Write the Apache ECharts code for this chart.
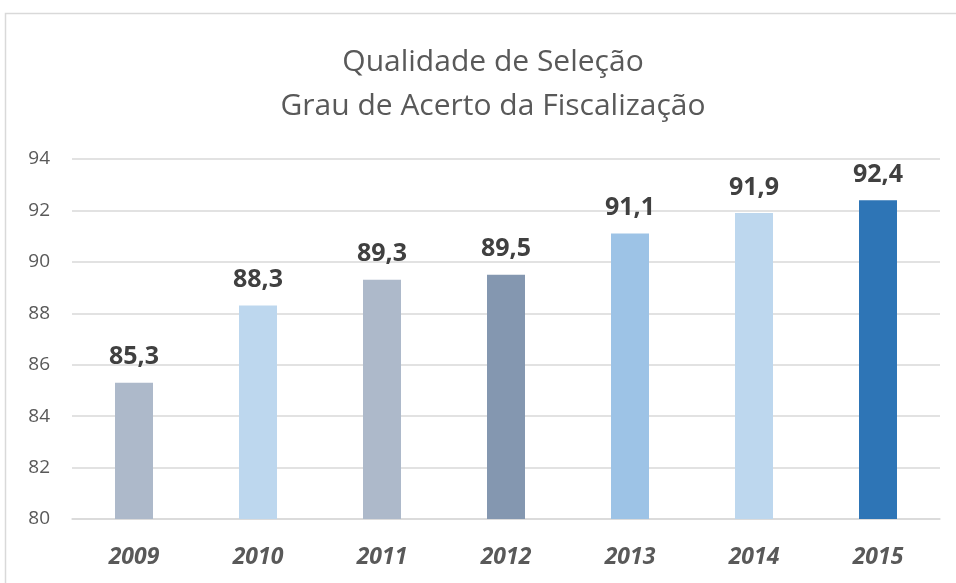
<!DOCTYPE html>
<html>
<head>
<meta charset="utf-8">
<script src="https://cdn.jsdelivr.net/npm/echarts@6/dist/echarts.min.js"></script>
<style>
  html, body { margin: 0; padding: 0; background: #fff; }
  #chart { width: 956px; height: 583px; }
</style>
</head>
<body>
<div id="chart"></div>
<script>
var years = ['2009', '2010', '2011', '2012', '2013', '2014', '2015'];
var values = [85.3, 88.3, 89.3, 89.5, 91.1, 91.9, 92.4];
var barColors = ['#adb9ca', '#bdd7ee', '#adb9ca', '#8497b0', '#9dc3e6', '#bdd7ee', '#2e75b6'];

var chart = echarts.init(document.getElementById('chart'));

var option = {
  animation: false,
  graphic: [{
    type: 'rect',
    shape: { x: 5.5, y: 13.5, width: 1000, height: 600 },
    style: { fill: 'none', stroke: '#d9d9d9', lineWidth: 1.5 },
    silent: true
  }],
  title: {
    text: 'Qualidade de Seleção\nGrau de Acerto da Fiscalização',
    left: 488,
    textAlign: 'center',
    top: 35,
    textStyle: {
      fontFamily: 'Open Sans',
      fontWeight: 'normal',
      fontSize: 30,
      lineHeight: 44,
      color: '#595959'
    }
  },
  grid: { left: 72, right: 16, top: 159, bottom: 64, containLabel: false },
  xAxis: {
    type: 'category',
    data: years,
    axisLine: { show: true, lineStyle: { color: '#d9d9d9', width: 1.5 } },
    axisTick: { show: false },
    axisLabel: {
      margin: 27,
      fontFamily: 'Open Sans',
      fontStyle: 'italic',
      fontWeight: 'bold',
      fontSize: 23,
      color: '#595959'
    }
  },
  yAxis: {
    type: 'value',
    min: 80,
    max: 94,
    interval: 2,
    axisLine: { show: false },
    axisTick: { show: false },
    splitLine: { lineStyle: { color: '#d9d9d9', width: 1.5 } },
    axisLabel: {
      margin: 22,
      fontFamily: 'Open Sans',
      fontSize: 19,
      color: '#595959'
    }
  },
  series: [{
    type: 'bar',
    barWidth: 38,
    data: values.map(function (v, i) {
      return { value: v, itemStyle: { color: barColors[i] } };
    }),
    label: {
      show: true,
      position: 'top',
      distance: 13,
      fontFamily: 'Open Sans',
      fontWeight: 'bold',
      fontSize: 25,
      color: '#404040',
      formatter: function (p) { return p.value.toFixed(1).replace('.', ','); }
    }
  }]
};

chart.setOption(option);
</script>
</body>
</html>
